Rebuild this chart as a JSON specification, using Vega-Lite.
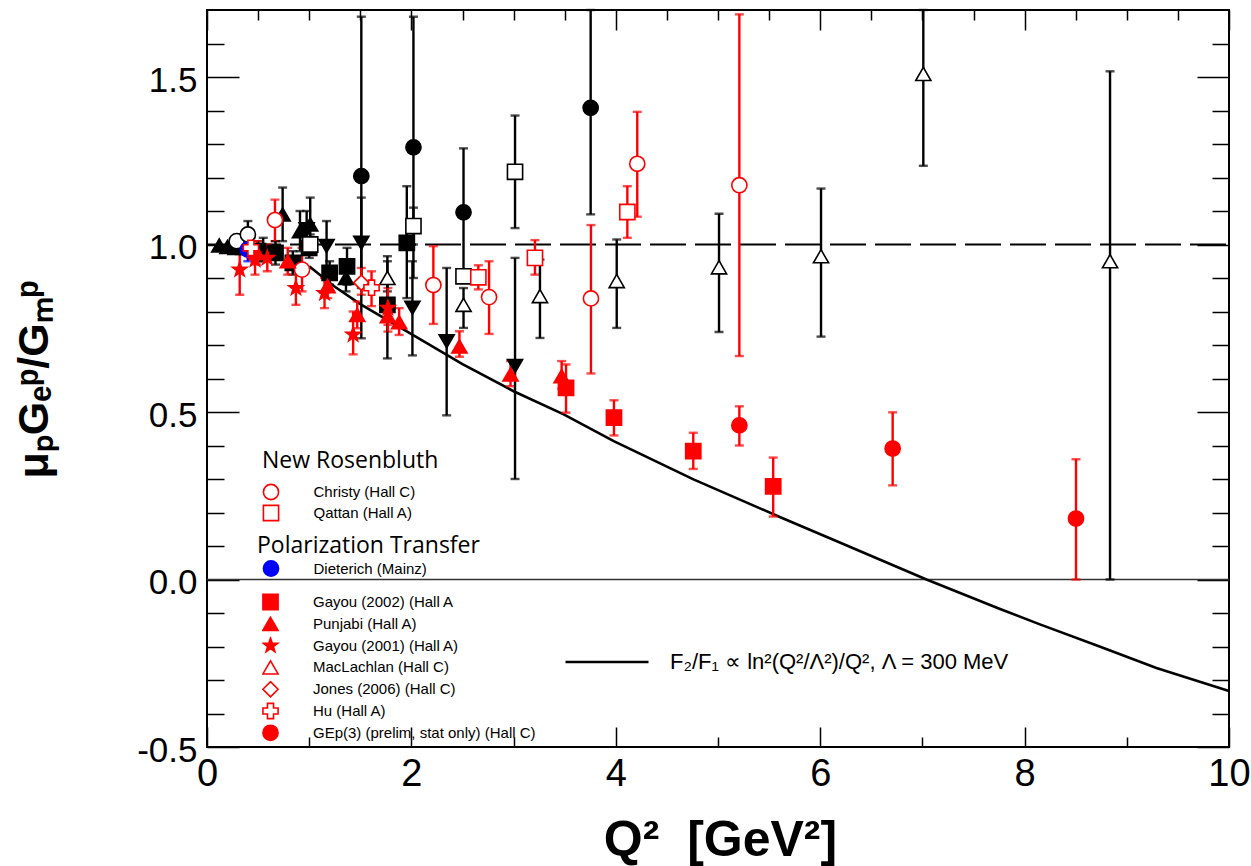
{
  "$schema": "https://vega.github.io/schema/vega-lite/v6.json",
  "width": 1022,
  "height": 737,
  "autosize": {"type": "none"},
  "padding": {"left": 207, "top": 10, "right": 22, "bottom": 119},
  "background": "white",
  "datasets": {
    "pts": [
      {"s": "Rosenbluth ▲", "g": "old", "q": 0.12, "r": 0.997},
      {"s": "Rosenbluth ▲", "g": "old", "q": 0.2, "r": 0.993},
      {"s": "Rosenbluth ▲", "g": "old", "q": 0.28, "r": 0.99},
      {"s": "Rosenbluth ▲", "g": "old", "q": 0.36, "r": 0.99},
      {"s": "Rosenbluth ▲", "g": "old", "q": 0.55, "r": 0.985, "lo": 0.95, "hi": 1.02},
      {"s": "Rosenbluth ▲", "g": "old", "q": 0.74, "r": 1.09, "lo": 1.01, "hi": 1.17},
      {"s": "Rosenbluth ▲", "g": "old", "q": 0.91, "r": 1.04, "lo": 0.98, "hi": 1.1},
      {"s": "Rosenbluth ▲", "g": "old", "q": 1.01, "r": 1.06, "lo": 0.98, "hi": 1.14},
      {"s": "Rosenbluth ▲", "g": "old", "q": 1.36, "r": 0.9, "lo": 0.86, "hi": 0.94},
      {"s": "Rosenbluth ▼", "g": "old", "q": 0.975, "r": 1.045, "lo": 0.99, "hi": 1.1},
      {"s": "Rosenbluth ▼", "g": "old", "q": 1.17, "r": 0.995, "lo": 0.93, "hi": 1.07},
      {"s": "Rosenbluth ▼", "g": "old", "q": 1.51, "r": 1.005, "lo": 0.87, "hi": 1.14},
      {"s": "Rosenbluth ▼", "g": "old", "q": 2.01, "r": 0.811, "lo": 0.669, "hi": 0.95},
      {"s": "Rosenbluth ▼", "g": "old", "q": 2.345, "r": 0.711, "lo": 0.49, "hi": 0.93},
      {"s": "Rosenbluth ▼", "g": "old", "q": 3.014, "r": 0.637, "lo": 0.3, "hi": 0.96},
      {"s": "Rosenbluth ■", "g": "old", "q": 0.5, "r": 0.98, "lo": 0.95, "hi": 1.01},
      {"s": "Rosenbluth ■", "g": "old", "q": 0.67, "r": 0.975, "lo": 0.94, "hi": 1.01},
      {"s": "Rosenbluth ■", "g": "old", "q": 0.84, "r": 0.945, "lo": 0.91, "hi": 0.98},
      {"s": "Rosenbluth ■", "g": "old", "q": 1.0, "r": 0.99, "lo": 0.96, "hi": 1.02},
      {"s": "Rosenbluth ■", "g": "old", "q": 1.2, "r": 0.915, "lo": 0.88, "hi": 0.95},
      {"s": "Rosenbluth ■", "g": "old", "q": 1.37, "r": 0.935, "lo": 0.88, "hi": 0.99},
      {"s": "Rosenbluth ■", "g": "old", "q": 1.765, "r": 0.82, "lo": 0.66, "hi": 0.965},
      {"s": "Rosenbluth ■", "g": "old", "q": 1.955, "r": 1.005, "lo": 0.84, "hi": 1.174},
      {"s": "Rosenbluth ●", "g": "old", "q": 1.51, "r": 1.204, "lo": 0.72, "hi": 1.68},
      {"s": "Rosenbluth ●", "g": "old", "q": 2.02, "r": 1.29, "lo": 0.9, "hi": 1.68},
      {"s": "Rosenbluth ●", "g": "old", "q": 2.51, "r": 1.096, "lo": 0.905, "hi": 1.287},
      {"s": "Rosenbluth ●", "g": "old", "q": 3.754, "r": 1.408, "lo": 1.09, "hi": 1.7},
      {"s": "Rosenbluth □", "g": "old", "q": 1.01, "r": 1.0, "lo": 0.97, "hi": 1.03},
      {"s": "Rosenbluth □", "g": "old", "q": 2.02, "r": 1.055, "lo": 1.0, "hi": 1.11},
      {"s": "Rosenbluth □", "g": "old", "q": 2.51, "r": 0.905, "lo": 0.89, "hi": 0.92},
      {"s": "Rosenbluth □", "g": "old", "q": 3.014, "r": 1.217, "lo": 1.049, "hi": 1.385},
      {"s": "Rosenbluth △", "g": "old", "q": 1.765, "r": 0.9, "lo": 0.86, "hi": 0.95},
      {"s": "Rosenbluth △", "g": "old", "q": 2.51, "r": 0.82, "lo": 0.751, "hi": 0.87},
      {"s": "Rosenbluth △", "g": "old", "q": 3.258, "r": 0.846, "lo": 0.721, "hi": 0.955},
      {"s": "Rosenbluth △", "g": "old", "q": 4.009, "r": 0.891, "lo": 0.751, "hi": 1.015},
      {"s": "Rosenbluth △", "g": "old", "q": 5.01, "r": 0.932, "lo": 0.739, "hi": 1.092},
      {"s": "Rosenbluth △", "g": "old", "q": 6.008, "r": 0.965, "lo": 0.725, "hi": 1.167},
      {"s": "Rosenbluth △", "g": "old", "q": 7.009, "r": 1.509, "lo": 1.235, "hi": 1.7},
      {"s": "Rosenbluth △", "g": "old", "q": 8.836, "r": 0.95, "lo": 0.0, "hi": 1.517},
      {"s": "Rosenbluth ○", "g": "old", "q": 0.29, "r": 1.01},
      {"s": "Rosenbluth ○", "g": "old", "q": 0.4, "r": 1.03, "lo": 0.99, "hi": 1.07},
      {"s": "Christy (Hall C)", "g": "nr", "q": 0.665, "r": 1.073, "lo": 1.01, "hi": 1.134},
      {"s": "Christy (Hall C)", "g": "nr", "q": 0.93, "r": 0.925, "lo": 0.86, "hi": 0.99},
      {"s": "Christy (Hall C)", "g": "nr", "q": 2.215, "r": 0.879, "lo": 0.763, "hi": 0.995},
      {"s": "Christy (Hall C)", "g": "nr", "q": 2.76, "r": 0.843, "lo": 0.733, "hi": 0.95},
      {"s": "Christy (Hall C)", "g": "nr", "q": 3.757, "r": 0.839, "lo": 0.615, "hi": 1.058},
      {"s": "Christy (Hall C)", "g": "nr", "q": 4.21, "r": 1.241, "lo": 1.083, "hi": 1.396},
      {"s": "Christy (Hall C)", "g": "nr", "q": 5.209, "r": 1.177, "lo": 0.667, "hi": 1.687},
      {"s": "Qattan (Hall A)", "g": "nr", "q": 2.655, "r": 0.902, "lo": 0.866, "hi": 0.938},
      {"s": "Qattan (Hall A)", "g": "nr", "q": 3.209, "r": 0.96, "lo": 0.91, "hi": 1.013},
      {"s": "Qattan (Hall A)", "g": "nr", "q": 4.113, "r": 1.097, "lo": 1.02, "hi": 1.174},
      {"s": "Dieterich (Mainz)", "g": "d", "q": 0.4, "r": 0.985, "lo": 0.95, "hi": 1.02},
      {"s": "Gayou (2002) (Hall A", "g": "pt", "q": 3.513, "r": 0.572, "lo": 0.498, "hi": 0.642},
      {"s": "Gayou (2002) (Hall A", "g": "pt", "q": 3.982, "r": 0.483, "lo": 0.43, "hi": 0.535},
      {"s": "Gayou (2002) (Hall A", "g": "pt", "q": 4.758, "r": 0.383, "lo": 0.33, "hi": 0.438},
      {"s": "Gayou (2002) (Hall A", "g": "pt", "q": 5.54, "r": 0.278, "lo": 0.188, "hi": 0.364},
      {"s": "Punjabi (Hall A)", "g": "pt", "q": 0.49, "r": 0.975, "lo": 0.94, "hi": 1.01},
      {"s": "Punjabi (Hall A)", "g": "pt", "q": 0.79, "r": 0.95, "lo": 0.91, "hi": 0.99},
      {"s": "Punjabi (Hall A)", "g": "pt", "q": 1.18, "r": 0.876, "lo": 0.84, "hi": 0.91},
      {"s": "Punjabi (Hall A)", "g": "pt", "q": 1.47, "r": 0.79, "lo": 0.75, "hi": 0.83},
      {"s": "Punjabi (Hall A)", "g": "pt", "q": 1.77, "r": 0.786, "lo": 0.74, "hi": 0.83},
      {"s": "Punjabi (Hall A)", "g": "pt", "q": 1.88, "r": 0.768, "lo": 0.73, "hi": 0.81},
      {"s": "Punjabi (Hall A)", "g": "pt", "q": 2.47, "r": 0.696, "lo": 0.665, "hi": 0.741},
      {"s": "Punjabi (Hall A)", "g": "pt", "q": 2.97, "r": 0.612, "lo": 0.577, "hi": 0.652},
      {"s": "Punjabi (Hall A)", "g": "pt", "q": 3.47, "r": 0.607, "lo": 0.57, "hi": 0.652},
      {"s": "Gayou (2001) (Hall A)", "g": "pt", "q": 0.32, "r": 0.925, "lo": 0.85, "hi": 0.99},
      {"s": "Gayou (2001) (Hall A)", "g": "pt", "q": 0.47, "r": 0.955, "lo": 0.91, "hi": 1.0},
      {"s": "Gayou (2001) (Hall A)", "g": "pt", "q": 0.59, "r": 0.96, "lo": 0.92, "hi": 1.0},
      {"s": "Gayou (2001) (Hall A)", "g": "pt", "q": 0.87, "r": 0.87, "lo": 0.82, "hi": 0.92},
      {"s": "Gayou (2001) (Hall A)", "g": "pt", "q": 1.15, "r": 0.855, "lo": 0.81, "hi": 0.9},
      {"s": "Gayou (2001) (Hall A)", "g": "pt", "q": 1.43, "r": 0.731, "lo": 0.672, "hi": 0.8},
      {"s": "Gayou (2001) (Hall A)", "g": "pt", "q": 1.77, "r": 0.811, "lo": 0.76, "hi": 0.87},
      {"s": "Jones (2006) (Hall C)", "g": "pt", "q": 1.51, "r": 0.886, "lo": 0.85, "hi": 0.93},
      {"s": "Hu (Hall A)", "g": "pt", "q": 0.43, "r": 0.99, "lo": 0.96, "hi": 1.02},
      {"s": "Hu (Hall A)", "g": "pt", "q": 1.61, "r": 0.871, "lo": 0.816, "hi": 0.92},
      {"s": "GEp(3) (prelim, stat only) (Hall C)", "g": "pt", "q": 5.209, "r": 0.46, "lo": 0.4, "hi": 0.517},
      {"s": "GEp(3) (prelim, stat only) (Hall C)", "g": "pt", "q": 6.709, "r": 0.391, "lo": 0.281, "hi": 0.499},
      {"s": "GEp(3) (prelim, stat only) (Hall C)", "g": "pt", "q": 8.503, "r": 0.182, "lo": 0.0, "hi": 0.359}
    ],
    "curve": [
      {"c": "F₂/F₁ ∝ ln²(Q²/Λ²)/Q², Λ = 300 MeV", "q": 1.0, "r": 0.935},
      {"c": "F₂/F₁ ∝ ln²(Q²/Λ²)/Q², Λ = 300 MeV", "q": 1.24, "r": 0.876},
      {"c": "F₂/F₁ ∝ ln²(Q²/Λ²)/Q², Λ = 300 MeV", "q": 1.5, "r": 0.822},
      {"c": "F₂/F₁ ∝ ln²(Q²/Λ²)/Q², Λ = 300 MeV", "q": 2.08, "r": 0.718},
      {"c": "F₂/F₁ ∝ ln²(Q²/Λ²)/Q², Λ = 300 MeV", "q": 2.5, "r": 0.643},
      {"c": "F₂/F₁ ∝ ln²(Q²/Λ²)/Q², Λ = 300 MeV", "q": 3.0, "r": 0.562},
      {"c": "F₂/F₁ ∝ ln²(Q²/Λ²)/Q², Λ = 300 MeV", "q": 3.49, "r": 0.493},
      {"c": "F₂/F₁ ∝ ln²(Q²/Λ²)/Q², Λ = 300 MeV", "q": 3.98, "r": 0.413},
      {"c": "F₂/F₁ ∝ ln²(Q²/Λ²)/Q², Λ = 300 MeV", "q": 4.76, "r": 0.299},
      {"c": "F₂/F₁ ∝ ln²(Q²/Λ²)/Q², Λ = 300 MeV", "q": 5.61, "r": 0.186},
      {"c": "F₂/F₁ ∝ ln²(Q²/Λ²)/Q², Λ = 300 MeV", "q": 6.18, "r": 0.112},
      {"c": "F₂/F₁ ∝ ln²(Q²/Λ²)/Q², Λ = 300 MeV", "q": 7.04, "r": 0.0},
      {"c": "F₂/F₁ ∝ ln²(Q²/Λ²)/Q², Λ = 300 MeV", "q": 7.76, "r": -0.088},
      {"c": "F₂/F₁ ∝ ln²(Q²/Λ²)/Q², Λ = 300 MeV", "q": 8.15, "r": -0.134},
      {"c": "F₂/F₁ ∝ ln²(Q²/Λ²)/Q², Λ = 300 MeV", "q": 8.74, "r": -0.201},
      {"c": "F₂/F₁ ∝ ln²(Q²/Λ²)/Q², Λ = 300 MeV", "q": 9.29, "r": -0.264},
      {"c": "F₂/F₁ ∝ ln²(Q²/Λ²)/Q², Λ = 300 MeV", "q": 10.0, "r": -0.333}
    ]
  },
  "resolve": {
    "scale": {"color": "independent", "shape": "independent", "fill": "independent", "stroke": "independent"},
    "axis": {"x": "independent", "y": "independent"}
  },
  "layer": [
    {
      "data": {"values": [{}]},
      "mark": {"type": "rule", "color": "black", "strokeWidth": 2, "strokeDash": [36, 9], "strokeDashOffset": 7},
      "encoding": {
        "x": {
          "datum": 0, "type": "quantitative",
          "scale": {"domain": [0, 10], "nice": false, "zero": false},
          "axis": {
            "orient": "bottom",
            "values": [0, 0.5, 1, 1.5, 2, 2.5, 3, 3.5, 4, 4.5, 5, 5.5, 6, 6.5, 7, 7.5, 8, 8.5, 9, 9.5, 10],
            "format": "d",
            "labelExpr": "datum.value % 2 === 0 ? datum.label : ''",
            "tickSize": -20,
            "tickDash": {"condition": {"test": "datum.value % 2 !== 0", "value": [10, 60]}, "value": []},
            "labelFontSize": 38,
            "labelPadding": 28,
            "title": "Q²\u00a0\u00a0[GeV²]",
            "titleFontSize": 50,
            "titleFontWeight": "bold",
            "titleX": 513,
            "titleY": 108,
            "titleAlign": "center",
            "titleBaseline": "alphabetic"
          }
        },
        "x2": {"datum": 10},
        "y": {
          "datum": 1, "type": "quantitative",
          "scale": {"domain": [-0.5, 1.7], "nice": false, "zero": false},
          "axis": {
            "orient": "left",
            "values": [-0.5, -0.4, -0.3, -0.2, -0.1, 0, 0.1, 0.2, 0.3, 0.4, 0.5, 0.6, 0.7, 0.8, 0.9, 1, 1.1, 1.2, 1.3, 1.4, 1.5, 1.6],
            "format": ".1f",
            "labelExpr": "abs(round(datum.value*10)) % 5 === 0 ? replace(datum.label, '−', '-') : ''",
            "tickSize": -32,
            "tickDash": {"condition": {"test": "abs(round(datum.value*10)) % 5 !== 0", "value": [17, 60]}, "value": []},
            "labelFontSize": 35,
            "labelPadding": 42,
            "labelOffset": 3,
            "title": "μₚGₑᵖ/Gₘᵖ",
            "titleFontSize": 43,
            "titleFontWeight": "bold",
            "titleAngle": 270,
            "titleX": -160,
            "titleY": 369,
            "titleAlign": "center",
            "titleBaseline": "alphabetic"
          }
        }
      }
    },
    {
      "data": {"values": [{}]},
      "mark": {"type": "rule", "color": "#333333", "strokeWidth": 1.5},
      "encoding": {
        "x": {
          "datum": 0, "type": "quantitative",
          "axis": {
            "orient": "top",
            "values": [0, 0.5, 1, 1.5, 2, 2.5, 3, 3.5, 4, 4.5, 5, 5.5, 6, 6.5, 7, 7.5, 8, 8.5, 9, 9.5, 10],
            "labels": false,
            "tickSize": -20,
            "tickDash": {"condition": {"test": "datum.value % 2 !== 0", "value": [10, 60]}, "value": []},
            "title": null
          }
        },
        "x2": {"datum": 10},
        "y": {
          "datum": 0, "type": "quantitative",
          "axis": {
            "orient": "right",
            "values": [-0.5, -0.4, -0.3, -0.2, -0.1, 0, 0.1, 0.2, 0.3, 0.4, 0.5, 0.6, 0.7, 0.8, 0.9, 1, 1.1, 1.2, 1.3, 1.4, 1.5, 1.6],
            "labels": false,
            "tickSize": -32,
            "tickDash": {"condition": {"test": "abs(round(datum.value*10)) % 5 !== 0", "value": [17, 60]}, "value": []},
            "title": null
          }
        }
      }
    },
    {
      "data": {"name": "curve"},
      "mark": {"type": "line", "strokeWidth": 2.6},
      "encoding": {
        "x": {"field": "q", "type": "quantitative", "axis": null},
        "y": {"field": "r", "type": "quantitative", "axis": null},
        "stroke": {
          "field": "c", "type": "nominal",
          "scale": {"range": ["black"]},
          "legend": {
            "title": null, "orient": "none", "legendX": 357, "legendY": 642,
            "symbolType": "stroke", "symbolSize": 6889, "symbolStrokeWidth": 2.5,
            "labelFontSize": 22, "labelOffset": 20, "clipHeight": 20, "symbolOffset": 0
          }
        }
      }
    },
    {
      "data": {"name": "pts"},
      "transform": [{"filter": "isValid(datum.lo)"}],
      "mark": {"type": "errorbar", "ticks": true, "size": 9, "thickness": 2.4},
      "encoding": {
        "x": {"field": "q", "type": "quantitative", "axis": null},
        "y": {"field": "lo", "type": "quantitative", "axis": null},
        "y2": {"field": "hi"},
        "color": {
          "field": "s", "type": "nominal", "legend": null,
          "scale": {
            "domain": ["Rosenbluth ▲", "Rosenbluth ▼", "Rosenbluth ■", "Rosenbluth ●", "Rosenbluth □", "Rosenbluth △", "Rosenbluth ○", "Christy (Hall C)", "Qattan (Hall A)", "Dieterich (Mainz)", "Gayou (2002) (Hall A", "Punjabi (Hall A)", "Gayou (2001) (Hall A)", "MacLachlan (Hall C)", "Jones (2006) (Hall C)", "Hu (Hall A)", "GEp(3) (prelim, stat only) (Hall C)"],
            "range": ["black", "black", "black", "black", "black", "black", "black", "#ff0000", "#ff0000", "#0000ff", "#ff0000", "#ff0000", "#ff0000", "#ff0000", "#ff0000", "#ff0000", "#ff0000"]
          }
        }
      }
    },
    {
      "data": {"name": "pts"},
      "transform": [{"filter": "datum.g === 'old'"}],
      "mark": {"type": "point", "filled": true, "opacity": 1, "size": 230, "strokeWidth": 1.6},
      "encoding": {
        "x": {"field": "q", "type": "quantitative", "axis": null},
        "y": {"field": "r", "type": "quantitative", "axis": null},
        "shape": {"field": "s", "type": "nominal", "legend": null,
          "scale": {"domain": ["Rosenbluth ▲", "Rosenbluth ▼", "Rosenbluth ■", "Rosenbluth ●", "Rosenbluth □", "Rosenbluth △", "Rosenbluth ○"],
                    "range": ["triangle-up", "triangle-down", "square", "circle", "square", "triangle-up", "circle"]}},
        "fill": {"field": "s", "type": "nominal", "legend": null,
          "scale": {"domain": ["Rosenbluth ▲", "Rosenbluth ▼", "Rosenbluth ■", "Rosenbluth ●", "Rosenbluth □", "Rosenbluth △", "Rosenbluth ○"],
                    "range": ["black", "black", "black", "black", "white", "white", "white"]}},
        "stroke": {"field": "s", "type": "nominal", "legend": null,
          "scale": {"domain": ["Rosenbluth ▲", "Rosenbluth ▼", "Rosenbluth ■", "Rosenbluth ●", "Rosenbluth □", "Rosenbluth △", "Rosenbluth ○"],
                    "range": ["black", "black", "black", "black", "black", "black", "black"]}}
      }
    },
    {
      "data": {"name": "pts"},
      "transform": [{"filter": "datum.g === 'nr'"}],
      "mark": {"type": "point", "filled": true, "opacity": 1, "size": 230, "strokeWidth": 1.6},
      "encoding": {
        "x": {"field": "q", "type": "quantitative", "axis": null},
        "y": {"field": "r", "type": "quantitative", "axis": null},
        "shape": {"field": "s", "type": "nominal",
          "scale": {"domain": ["Christy (Hall C)", "Qattan (Hall A)"], "range": ["circle", "square"]},
          "legend": {"title": "New Rosenbluth", "orient": "none", "legendX": 55, "legendY": 440, "titlePadding": 10, "rowPadding": 3, "symbolOffset": 0.5}},
        "fill": {"field": "s", "type": "nominal",
          "scale": {"domain": ["Christy (Hall C)", "Qattan (Hall A)"], "range": ["white", "white"]}},
        "stroke": {"field": "s", "type": "nominal",
          "scale": {"domain": ["Christy (Hall C)", "Qattan (Hall A)"], "range": ["#ff0000", "#ff0000"]}}
      }
    },
    {
      "data": {"name": "pts"},
      "transform": [{"filter": "datum.g === 'd'"}],
      "mark": {"type": "point", "filled": true, "opacity": 1, "size": 230, "strokeWidth": 1.6},
      "encoding": {
        "x": {"field": "q", "type": "quantitative", "axis": null},
        "y": {"field": "r", "type": "quantitative", "axis": null},
        "shape": {"field": "s", "type": "nominal",
          "scale": {"domain": ["Dieterich (Mainz)"], "range": ["circle"]},
          "legend": {"title": "Polarization Transfer", "orient": "none", "legendX": 50, "legendY": 525, "titlePadding": 1.5, "symbolOffset": 5.5}},
        "fill": {"field": "s", "type": "nominal",
          "scale": {"domain": ["Dieterich (Mainz)"], "range": ["#0000ff"]}},
        "stroke": {"field": "s", "type": "nominal",
          "scale": {"domain": ["Dieterich (Mainz)"], "range": ["#0000ff"]}}
      }
    },
    {
      "data": {"name": "pts"},
      "transform": [{"filter": "datum.g === 'pt'"}],
      "mark": {"type": "point", "filled": true, "opacity": 1, "size": 230, "strokeWidth": 1.6},
      "encoding": {
        "x": {"field": "q", "type": "quantitative", "axis": null},
        "y": {"field": "r", "type": "quantitative", "axis": null},
        "shape": {"field": "s", "type": "nominal",
          "scale": {"domain": ["Gayou (2002) (Hall A", "Punjabi (Hall A)", "Gayou (2001) (Hall A)", "MacLachlan (Hall C)", "Jones (2006) (Hall C)", "Hu (Hall A)", "GEp(3) (prelim, stat only) (Hall C)"],
                    "range": ["square", "triangle-up", "M0,-1L0.235,-0.324L0.951,-0.309L0.38,0.124L0.588,0.809L0,0.4L-0.588,0.809L-0.38,0.124L-0.951,-0.309L-0.235,-0.324Z", "triangle-up", "diamond", "cross", "circle"]},
          "legend": {"title": null, "orient": "none", "legendX": 55, "legendY": 583, "rowPadding": 3.8, "symbolOffset": 0}},
        "fill": {"field": "s", "type": "nominal",
          "scale": {"domain": ["Gayou (2002) (Hall A", "Punjabi (Hall A)", "Gayou (2001) (Hall A)", "MacLachlan (Hall C)", "Jones (2006) (Hall C)", "Hu (Hall A)", "GEp(3) (prelim, stat only) (Hall C)"],
                    "range": ["#ff0000", "#ff0000", "#ff0000", "white", "white", "white", "#ff0000"]}},
        "stroke": {"field": "s", "type": "nominal",
          "scale": {"domain": ["Gayou (2002) (Hall A", "Punjabi (Hall A)", "Gayou (2001) (Hall A)", "MacLachlan (Hall C)", "Jones (2006) (Hall C)", "Hu (Hall A)", "GEp(3) (prelim, stat only) (Hall C)"],
                    "range": ["#ff0000", "#ff0000", "#ff0000", "#ff0000", "#ff0000", "#ff0000", "#ff0000"]}}
      }
    }
  ],
  "config": {
    "view": {"stroke": "black", "strokeWidth": 2},
    "axis": {
      "grid": false, "domain": false, "tickColor": "black", "tickWidth": 1.5,
      "labelColor": "black", "labelFont": "Liberation Sans", "titleColor": "black", "titleFont": "Liberation Sans",
      "labelOverlap": false, "labelFlush": false, "labelBound": false
    },
    "legend": {
      "direction": "vertical", "padding": 0,
      "labelFont": "Liberation Sans", "labelFontSize": 15, "labelColor": "black", "labelLimit": 600,
      "titleFont": "Open Sans", "titleFontSize": 23, "titleFontWeight": "normal", "titleColor": "black", "titleLimit": 600,
      "symbolStrokeWidth": 1.6, "symbolSize": 230, "labelOffset": 34, "clipHeight": 18, "rowPadding": 3.8
    }
  }
}
